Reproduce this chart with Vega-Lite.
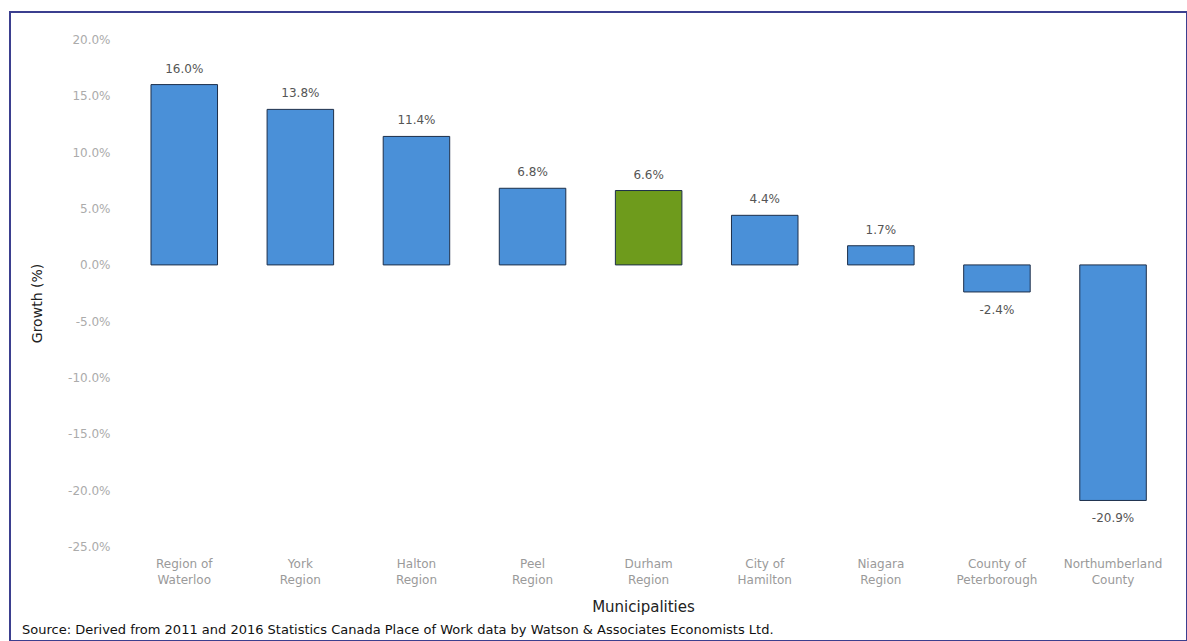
{
  "$schema": "https://vega.github.io/schema/vega-lite/v6.json",
  "width": 1177,
  "height": 629,
  "autosize": {"type": "none"},
  "padding": {"left": 10, "top": 12, "right": 0, "bottom": 0},
  "background": "white",
  "config": {
    "view": {"stroke": "#3b3f8f", "strokeWidth": 2},
    "font": "DejaVu Sans",
    "axis": {"grid": false}
  },
  "title": {
    "text": "Source:  Derived from 2011 and 2016 Statistics Canada Place of Work data by Watson & Associates Economists Ltd.",
    "orient": "bottom",
    "anchor": "start",
    "frame": "group",
    "offset": -17,
    "dx": 12,
    "fontSize": 13,
    "fontWeight": "normal",
    "color": "#111111"
  },
  "data": {
    "values": [
      {"municipality": "Region of|Waterloo", "growth": 16.0, "group": "Other"},
      {"municipality": "York|Region", "growth": 13.8, "group": "Other"},
      {"municipality": "Halton|Region", "growth": 11.4, "group": "Other"},
      {"municipality": "Peel|Region", "growth": 6.8, "group": "Other"},
      {"municipality": "Durham|Region", "growth": 6.6, "group": "Durham"},
      {"municipality": "City of|Hamilton", "growth": 4.4, "group": "Other"},
      {"municipality": "Niagara|Region", "growth": 1.7, "group": "Other"},
      {"municipality": "County of|Peterborough", "growth": -2.4, "group": "Other"},
      {"municipality": "Northumberland|County", "growth": -20.9, "group": "Other"}
    ]
  },
  "transform": [
    {"calculate": "replace(format(datum.growth, '.1f'), '\u2212', '-') + '%'", "as": "label"}
  ],
  "encoding": {
    "x": {
      "field": "municipality",
      "type": "nominal",
      "sort": null,
      "scale": {"paddingInner": 0.427, "paddingOuter": 0.7825, "align": 0.776},
      "axis": {
        "orient": "bottom",
        "offset": -86,
        "domain": false,
        "ticks": false,
        "tickSize": 0,
        "labelPadding": 3,
        "labelAngle": 0,
        "labelExpr": "split(datum.value, '|')",
        "labelColor": "#9a9a9a",
        "labelFontSize": 12,
        "labelLineHeight": 16,
        "labelOverlap": false,
        "title": "Municipalities",
        "titleX": 633,
        "titleY": 51,
        "titleAlign": "center",
        "titleBaseline": "middle",
        "titleFontSize": 15,
        "titleFontWeight": "normal",
        "titleColor": "#222222"
      }
    },
    "y": {
      "field": "growth",
      "type": "quantitative",
      "scale": {"domain": [-33.37, 22.44], "nice": false, "zero": false},
      "axis": {
        "values": [-25, -20, -15, -10, -5, 0, 5, 10, 15, 20],
        "labelExpr": "datum.value + '.0%'",
        "offset": -100,
        "domain": false,
        "ticks": false,
        "tickSize": 0,
        "labelPadding": 0,
        "labelColor": "#ababab",
        "labelFontSize": 12,
        "title": "Growth (%)",
        "titleX": -73,
        "titleY": 291,
        "titleAngle": -90,
        "titleAlign": "center",
        "titleBaseline": "middle",
        "titleFontSize": 14,
        "titleFontWeight": "normal",
        "titleColor": "#222222"
      }
    }
  },
  "layer": [
    {
      "mark": {"type": "bar", "stroke": "#1d2f4a", "strokeWidth": 1},
      "encoding": {
        "color": {
          "field": "group",
          "type": "nominal",
          "scale": {"domain": ["Other", "Durham"], "range": ["#4a90d8", "#6e9b1c"]},
          "legend": null
        }
      }
    },
    {
      "transform": [{"filter": "datum.growth >= 0"}],
      "mark": {"type": "text", "baseline": "bottom", "dy": -9, "fontSize": 12, "color": "#555555"},
      "encoding": {"text": {"field": "label", "type": "nominal"}}
    },
    {
      "transform": [{"filter": "datum.growth < 0"}],
      "mark": {"type": "text", "baseline": "top", "dy": 13, "fontSize": 12, "color": "#555555"},
      "encoding": {"text": {"field": "label", "type": "nominal"}}
    }
  ]
}
